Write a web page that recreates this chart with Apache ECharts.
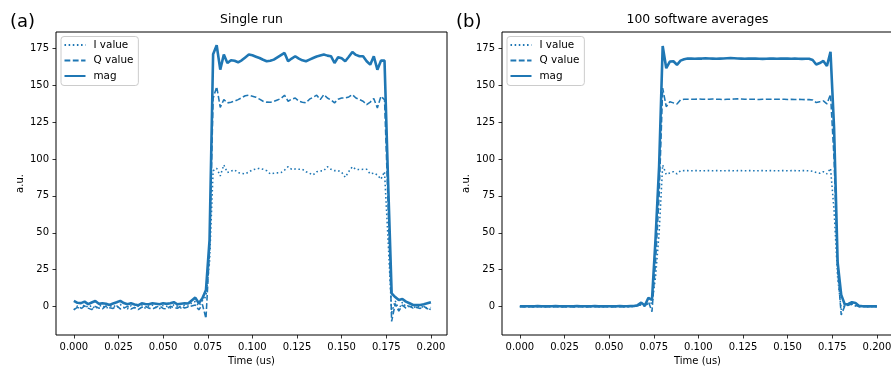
<!DOCTYPE html>
<html>
<head>
<meta charset="utf-8">
<script src="https://cdn.jsdelivr.net/npm/echarts@6.0.0/dist/echarts.min.js"></script>
<style>
  html, body { margin: 0; padding: 0; background: #fff; }
  #chart { width: 891px; height: 367px; }
</style>
</head>
<body>
<div id="chart"></div>
<script>
// Readout trace of a square pulse: I, Q and magnitude versus time (us)
const time = [
  0.000, 0.002, 0.004, 0.006, 0.008, 0.010, 0.012, 0.014, 0.016, 0.018,
  0.020, 0.022, 0.024, 0.026, 0.028, 0.030, 0.032, 0.034, 0.036, 0.038,
  0.040, 0.042, 0.044, 0.046, 0.048, 0.050, 0.052, 0.054, 0.056, 0.058,
  0.060, 0.062, 0.064, 0.066, 0.068, 0.070, 0.072, 0.074, 0.076, 0.078,
  0.080, 0.082, 0.084, 0.086, 0.088, 0.090, 0.092, 0.094, 0.096, 0.098,
  0.100, 0.102, 0.104, 0.106, 0.108, 0.110, 0.112, 0.114, 0.116, 0.118,
  0.120, 0.122, 0.124, 0.126, 0.128, 0.130, 0.132, 0.134, 0.136, 0.138,
  0.140, 0.142, 0.144, 0.146, 0.148, 0.150, 0.152, 0.154, 0.156, 0.158,
  0.160, 0.162, 0.164, 0.166, 0.168, 0.170, 0.172, 0.174, 0.176, 0.178,
  0.180, 0.182, 0.184, 0.186, 0.188, 0.190, 0.192, 0.194, 0.196, 0.198, 0.200
];

// (a) single run
const singleI = [
  -2.2, 0.5, -1.0, 1.2, -0.5, 0.8, -1.5, 0.3, 1.0, -1.2,
  0.2, 1.0, -0.8, 1.5, -0.5, -1.5, 0.6, -0.8, 0.4, 1.2,
  -1.0, 0.5, 1.0, -0.6, -1.3, 0.8, 0.2, -1.0, 1.3, 0.3,
  -0.9, 1.0, 0.4, 2.5, 3.5, 0.5, 4.0, 7.0, 30, 92,
  93.7, 88.5, 96, 90.8, 91.8, 92.6, 90.8, 90.3, 89.9, 91.2,
  92.6, 93.2, 93.7, 93, 92.1, 89.9, 90.3, 90.6, 90.8, 92.5,
  94.8, 93, 93.2, 93, 93, 91.4, 90.3, 89.2, 91.4, 91.8,
  92.1, 94.8, 93, 92.1, 92.1, 91, 87.6, 91.5, 94.8, 93,
  92.8, 93, 93, 89.9, 90.5, 89.2, 86.3, 91.4, 45, -4,
  4, -2, 3, 0, 1, -1, 0.5, -0.5, 0, -1, -2
];
const singleQ = [
  -2.0, -0.5, -1.5, 0.5, -1.0, -2.0, 0.2, -1.0, -1.5, 0.5,
  -0.8, -1.2, 0.6, -1.5, -1.0, 0.2, -1.6, -0.5, -2.0, -0.4,
  0.3, -1.0, -1.6, -0.4, 0.5, -1.2, -1.5, 0.2, -0.6, -1.1,
  0.4, -0.9, -0.3, 0.5, 1.2, -2.2, 1.5, -8.0, 38, 141,
  149, 135, 140.2, 138, 138.5, 139.1, 140.2, 141.5, 142.8, 143.2,
  142.5, 141.8, 140.5, 139.1, 138.5, 138.4, 139, 140, 140.9, 143.2,
  139.1, 140.5, 141.3, 139.1, 138.5, 138, 140.5, 141.8, 143.2, 140.2,
  143.6, 141.3, 140, 138, 140.5, 141.3, 141.3, 142, 143.6, 141.3,
  140.2, 139.1, 136.8, 138.5, 140.9, 134.6, 142.5, 140.2, 70, -10,
  2.0, -3.0, 1.0, -1.0, 0.3, -1.0, -0.5, -1.2, 0.2, -1.5, -0.5
];
const singleMag = [
  3.9, 2.6, 2.4, 3.4, 1.7, 2.8, 3.8, 1.9, 2.3, 2.0,
  1.1, 2.2, 3.0, 3.9, 2.4, 1.6, 2.3, 1.5, 0.9, 2.3,
  1.8, 1.6, 2.3, 2.0, 1.6, 2.3, 1.9, 2.3, 3.0, 1.6,
  2.0, 2.3, 2.1, 4.2, 6.1, 2.3, 5.7, 11.3, 45, 171,
  177, 160.5, 170.7, 165, 166.9, 166.5, 165.5, 166.8, 168.8, 170.7,
  170.2, 169.3, 168.4, 167.2, 166.2, 166.5, 167.3, 168.8, 170.3, 171.8,
  166.2, 168, 169.6, 168, 166.8, 166.2, 167.3, 168.4, 169.4, 170.1,
  170.7, 170, 169.6, 165, 168.9, 168.2, 166.2, 169.2, 172.5, 170.5,
  169.6, 169.6, 166.2, 163.9, 169.6, 160.5, 166.6, 166.6, 85, 9,
  6.5, 4.5, 5.2, 3.4, 2.3, 1.1, 1.0, 1.1, 1.6, 2.3, 3.0
];

// (b) 100 software averages
const avgI = [
  0.0, 0.1, 0.0, -0.1, 0.0, 0.1, 0.0, 0.0, 0.1, -0.1,
  0.0, 0.1, 0.0, -0.1, 0.1, 0.0, 0.0, 0.1, 0.0, -0.1,
  0.0, 0.1, 0.0, 0.0, -0.1, 0.1, 0.0, 0.0, 0.1, 0.0,
  -0.1, 0.1, 0.2, 0.5, 1.3, 0.3, 2.2, 2.5, 20, 50,
  96, 89.5, 90.5, 91.4, 89.9, 92, 92.1, 92.1, 92, 92.1,
  92.1, 92, 92.1, 92.1, 92, 92.1, 92.1, 92, 92.1, 92.1,
  92, 92.1, 92.1, 92, 92.1, 92.1, 92, 92.1, 92.1, 92,
  92.1, 92.1, 92, 92.1, 92.1, 92, 92.1, 92.1, 92, 92.1,
  92.1, 92, 91.6, 90.8, 90.3, 91.4, 89.9, 93.7, 65, 20,
  -2, 1, 0.8, 1.5, 0.5, 0, 0.1, 0, 0, 0.1, 0
];
const avgQ = [
  0.1, -0.1, 0.0, 0.1, -0.1, 0.0, 0.1, 0.0, -0.1, 0.1,
  0.0, -0.1, 0.1, 0.0, 0.0, -0.1, 0.1, 0.0, -0.1, 0.0,
  0.1, 0.0, -0.1, 0.0, 0.1, -0.1, 0.0, 0.1, 0.0, -0.1,
  0.0, 0.1, 0.2, 0.6, 1.5, 0.3, 3.5, -3.4, 30, 75,
  148, 135.4, 138.8, 138, 137.3, 140, 140.4, 140.5, 140.4, 140.5,
  140.6, 140.5, 140.4, 140.5, 140.6, 140.5, 140.4, 140.3, 140.4, 140.5,
  140.6, 140.7, 140.6, 140.5, 140.4, 140.5, 140.4, 140.3, 140.4, 140.5,
  140.4, 140.5, 140.4, 140.5, 140.4, 140.3, 140.4, 140.3, 140.4, 140.3,
  140.2, 140.2, 140, 138.2, 138.8, 139.3, 137.3, 143.8, 100, 25,
  -5.6, 0.5, 1.0, 2.0, 0.8, 0.1, 0.0, 0.0, 0.1, 0.0, 0.0
];
const avgMag = [
  0.3, 0.2, 0.3, 0.3, 0.2, 0.4, 0.3, 0.2, 0.3, 0.3,
  0.4, 0.3, 0.2, 0.3, 0.3, 0.2, 0.4, 0.3, 0.3, 0.2,
  0.3, 0.4, 0.3, 0.2, 0.3, 0.3, 0.2, 0.3, 0.4, 0.3,
  0.3, 0.4, 0.4, 1.0, 2.7, 0.8, 6.0, 4.5, 46, 95,
  176.5, 161.5, 166, 166.2, 163.8, 166.6, 167.5, 168, 168.1, 167.9,
  168, 168, 168.2, 168.1, 168, 167.9, 168, 168.1, 168.2, 168.3,
  168.2, 168.1, 168, 167.9, 168, 168.1, 168, 167.9, 167.8, 167.9,
  168, 168, 167.9, 168, 168.1, 168, 167.9, 168, 167.9, 167.8,
  167.9, 167.9, 167, 164, 165, 166.4, 163, 172.5, 121, 30,
  8, 1.5, 1.8, 3.0, 2.5, 0.5, 0.3, 0.3, 0.2, 0.3, 0.3
];

const xTicks = [0, 0.025, 0.05, 0.075, 0.1, 0.125, 0.15, 0.175, 0.2];
const yTicks = [0, 25, 50, 75, 100, 125, 150, 175];
const seriesNames = ['I value', 'Q value', 'mag'];
const panelTitles = ['Single run', '100 software averages'];
const panelTags = ['(a)', '(b)'];

const BLUE = '#1f77b4';
const FONT = 'DejaVu Sans';

const pairs = vals => time.map((t, i) => [t, vals[i]]);

const panels = [
  { left: 56, tagLeft: 10, data: [singleI, singleQ, singleMag] },
  { left: 502, tagLeft: 456, data: [avgI, avgQ, avgMag] }
];
const PW = 391, PTOP = 32, PH = 303;

const lineStyles = [
  { width: 1.56, type: [1.56, 2.57] },
  { width: 1.56, type: [5.8, 2.5] },
  { width: 2.6, type: 'solid' }
];

const option = {
  animation: false,
  backgroundColor: '#fff',
  textStyle: { fontFamily: FONT },
  title: [],
  legend: [],
  grid: [],
  xAxis: [],
  yAxis: [],
  series: []
};

panels.forEach((p, k) => {
  option.grid.push({
    left: p.left, top: PTOP, width: PW, height: PH,
    containLabel: false, outerBoundsMode: 'none',
    show: true, borderColor: '#000', borderWidth: 1, backgroundColor: 'transparent'
  });
  option.title.push({
    text: panelTitles[k], left: p.left + PW / 2, top: 14, textAlign: 'center', padding: 0,
    textStyle: { fontSize: 12.4, fontWeight: 'normal', color: '#000', fontFamily: FONT }
  });
  option.title.push({
    text: panelTags[k], left: p.tagLeft, top: 13, padding: 0,
    textStyle: { fontSize: 18, fontWeight: 'normal', color: '#000', fontFamily: FONT }
  });
  option.legend.push({
    left: p.left + 5, top: 36.5, orient: 'vertical',
    data: seriesNames,
    itemWidth: 21, itemHeight: 10, itemGap: 5.5,
    padding: [3.5, 5, 4.5, 2.5],
    borderColor: '#cccccc', borderWidth: 1, borderRadius: 3,
    backgroundColor: 'rgba(255,255,255,0.8)',
    selectedMode: false,
    itemStyle: { opacity: 0, borderWidth: 0 },
    textStyle: { fontSize: 10.4, color: '#000', fontFamily: FONT, padding: [0, 0, 0, 3], lineHeight: 10 }
  });
  option.xAxis.push({
    type: 'value', gridIndex: k, min: -0.01, max: 0.209,
    splitLine: { show: false },
    axisLine: { show: false, onZero: false },
    axisTick: { show: true, customValues: xTicks, length: 3.5, lineStyle: { color: '#000', width: 0.8 } },
    axisLabel: {
      customValues: xTicks, formatter: v => v.toFixed(3), color: '#000',
      fontSize: 10, margin: 7, fontFamily: FONT
    },
    name: 'Time (us)', nameLocation: 'middle', nameGap: 21,
    nameTextStyle: { color: '#000', fontSize: 10, fontFamily: FONT }
  });
  option.yAxis.push({
    type: 'value', gridIndex: k, min: -19.2, max: 186,
    splitLine: { show: false },
    axisLine: { show: false, onZero: false },
    axisTick: { show: true, customValues: yTicks, length: 3.5, lineStyle: { color: '#000', width: 0.8 } },
    axisLabel: {
      customValues: yTicks, formatter: v => String(Math.round(v)), color: '#000',
      fontSize: 10, margin: 7, fontFamily: FONT
    },
    name: 'a.u.', nameLocation: 'middle', nameGap: 31, nameRotate: 90,
    nameTextStyle: { color: '#000', fontSize: 10, fontFamily: FONT }
  });
  p.data.forEach((vals, j) => {
    option.series.push({
      name: seriesNames[j], type: 'line', xAxisIndex: k, yAxisIndex: k,
      data: pairs(vals), showSymbol: false, symbol: 'none',
      lineStyle: Object.assign({ color: BLUE }, lineStyles[j]),
      itemStyle: { color: BLUE },
      emphasis: { disabled: true },
      z: 2 + j
    });
  });
});

const chart = echarts.init(document.getElementById('chart'), null, { renderer: 'canvas' });
chart.setOption(option);
</script>
</body>
</html>
